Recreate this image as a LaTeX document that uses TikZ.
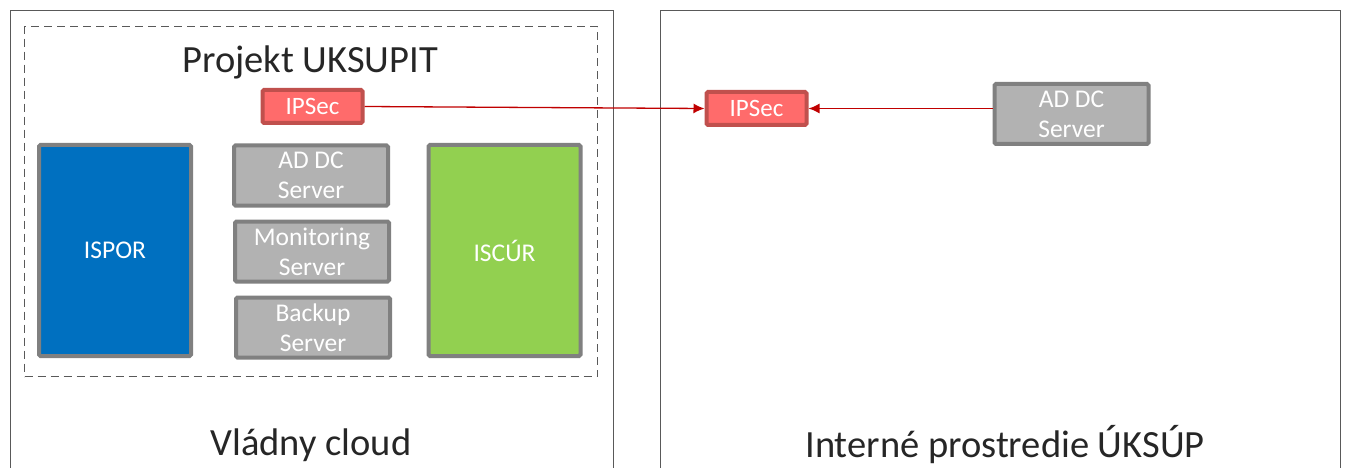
\documentclass[tikz,border=0pt]{standalone}
\usepackage{fontspec}
\setmainfont{Carlito}
\usetikzlibrary{arrows.meta, positioning}
\definecolor{ispblue}{HTML}{0070C0}
\definecolor{iscgreen}{HTML}{92D050}
\definecolor{srvgray}{HTML}{B2B2B2}
\definecolor{srvedge}{HTML}{808080}
\definecolor{ipsfill}{HTML}{FF6B6B}
\definecolor{ipsedge}{HTML}{C0504D}
\definecolor{linkred}{HTML}{C00000}
\definecolor{frame}{HTML}{595959}
\tikzstyle{zone} = [
    rectangle,
    draw=frame,
    line width=1.2pt,
    inner sep=0pt
]
\tikzstyle{server} = [
    rectangle,
    rounded corners=1.5pt,
    minimum width=154pt,
    minimum height=60pt,
    inner sep=0pt,
    fill=srvgray,
    draw=srvedge,
    line width=4pt,
    text=white,
    align=center,
    font=\fontsize{25.5}{30}\selectfont
]
\tikzstyle{system} = [
    rectangle,
    rounded corners=1.5pt,
    minimum width=152pt,
    minimum height=211pt,
    draw=srvedge,
    line width=4pt,
    text=white,
    font=\fontsize{25.5}{30}\selectfont
]
\tikzstyle{ipsec} = [
    rectangle,
    rounded corners=1.5pt,
    minimum width=100pt,
    minimum height=33pt,
    inner sep=0pt,
    fill=ipsfill,
    draw=ipsedge,
    line width=4pt,
    text=white,
    font=\fontsize{25}{30}\selectfont
]
\tikzstyle{title} = [font=\fontsize{38.5}{44}\selectfont, text=black!85]
\tikzstyle{arrow} = [draw=linkred, line width=1.3pt, -{Latex[length=11pt, width=10pt]}]

\begin{document}
\begin{tikzpicture}[x=1pt, y=-1pt]

\useasboundingbox (0,0) rectangle (1350,468);
\clip (0,0) rectangle (1350,468);

% zones
\node (cloud) [zone, minimum width=603pt, minimum height=480pt, anchor=north west] at (10,10) {};
\node (local) [zone, minimum width=680pt, minimum height=480pt, anchor=north west] at (660,10) {};
\node (project) [zone, dashed, line width=1.4pt, dash pattern=on 8pt off 5pt,
    minimum width=573pt, minimum height=350pt, anchor=north west] at (24,26) {};

\node (projtitle) [title] at (310,62) {Projekt UKSUPIT};
\node (cloudtitle) [title] at (311,445) {Vládny cloud};
\node (localtitle) [title] at (1005,445) {Interné prostredie ÚKSÚP};

% project
\node (ipsecA) [ipsec] at (312.5,106.5) {IPSec};
\node (ispor) [system, fill=ispblue] at (115,250.5) {ISPOR};
\node (iscur) [system, fill=iscgreen] at (504.5,250.5) {ISCÚR};
\node (adA) [server] at (311,175.5) {AD DC\\Server};
\node (monitor) [server] at (312,251.5) {Monitoring\\Server};
\node (backup) [server] at (313,327.5) {Backup\\Server};

% interne prostredie
\node (ipsecB) [ipsec] at (756.5,108.5) {IPSec};
\node (adB) [server] at (1071.5,114) {AD DC\\Server};

\draw [arrow] (ipsecA.east) -- (ipsecB.west);
\draw [arrow] (adB.west |- ipsecB.east) -- (ipsecB.east);

\end{tikzpicture}
\end{document}
